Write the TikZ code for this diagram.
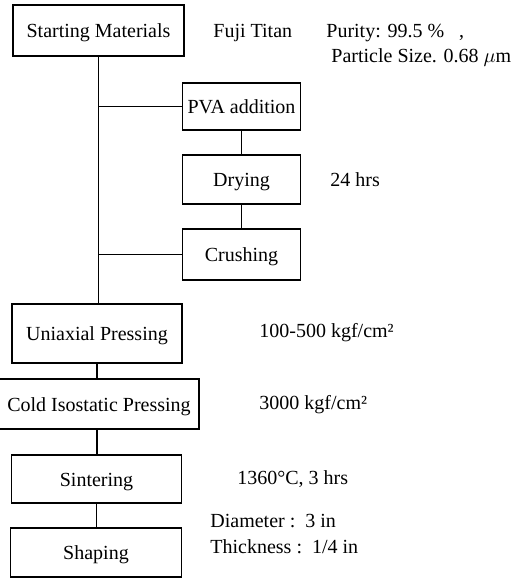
\documentclass[tikz,border=0pt]{standalone}
\usepackage{fontspec}
\setmainfont{Liberation Serif}
\usetikzlibrary{positioning}

\begin{document}
\begin{tikzpicture}[
        x=0.5pt, y=-0.5pt,
        font=\fontsize{10}{13}\selectfont,
        proc/.style={rectangle, draw=black, line width=0.7pt, inner sep=0pt, text height=0.72em, text depth=0pt, align=center},
        note/.style={anchor=west, inner sep=0pt, align=left},
        link/.style={draw=black, line width=0.6pt}
    ]
        \useasboundingbox (0,0) rectangle (521,578);

        % Process steps
        \node[proc, minimum width=85.5pt, minimum height=25.5pt] (SM) at (98.5,30.5) {Starting Materials};
        \node[proc, minimum width=59pt, minimum height=23.5pt] (PVA) at (241.5,106.5) {PVA addition};
        \node[proc, minimum width=59pt, minimum height=24.5pt] (DRY) at (241.5,179.5) {Drying};
        \node[proc, minimum width=59pt, minimum height=25.5pt] (CRUSH) at (241.5,254.5) {Crushing};
        \node[proc, minimum width=85pt, minimum height=29.5pt] (UNI) at (97,333.5) {Uniaxial Pressing};
        \node[proc, minimum width=100pt, minimum height=25pt] (CIP) at (99,404) {Cold Isostatic Pressing};
        \node[proc, minimum width=85pt, minimum height=24pt] (SINT) at (96.5,479) {Sintering};
        \node[proc, minimum width=85.5pt, minimum height=24.5pt] (SHAPE) at (96,552.5) {Shaping};

        % Conditions
        \node[note] (FUJI) at (213,33) {Fuji Titan};
        \node[note] (PUR) at (326,33) {Purity: 99.5 \%\ \ \ ,};
        \node[note] (PSIZE) at (331,58) {Particle Size. 0.68 $\mu$m};
        \node[note] (HRS) at (330,180) {24 hrs};
        \node[note] (P1) at (259,333) {100-500 kgf/cm²};
        \node[note] (P2) at (259,405) {3000 kgf/cm²};
        \node[note] (TEMP) at (237,479) {1360°C, 3 hrs};
        \node[note] (DIA) at (210,521) {Diameter :\ \ 3 in};
        \node[note] (THK) at (210,547) {Thickness :\ \ 1/4 in};

        % Connectors
        \draw[link] (SM.south) -- (SM.south |- UNI.north);
        \draw[link] (SM.south |- PVA.west) -- (PVA.west);
        \draw[link] (PVA.south) -- (DRY.north);
        \draw[link] (DRY.south) -- (CRUSH.north);
        \draw[link] (SM.south |- CRUSH.west) -- (CRUSH.west);
        \draw[link] (UNI.south) -- (UNI.south |- CIP.north);
        \draw[link] (UNI.south |- CIP.south) -- (UNI.south |- SINT.north);
        \draw[link] (SINT.south) -- (SINT.south |- SHAPE.north);
    \end{tikzpicture}
\end{document}
